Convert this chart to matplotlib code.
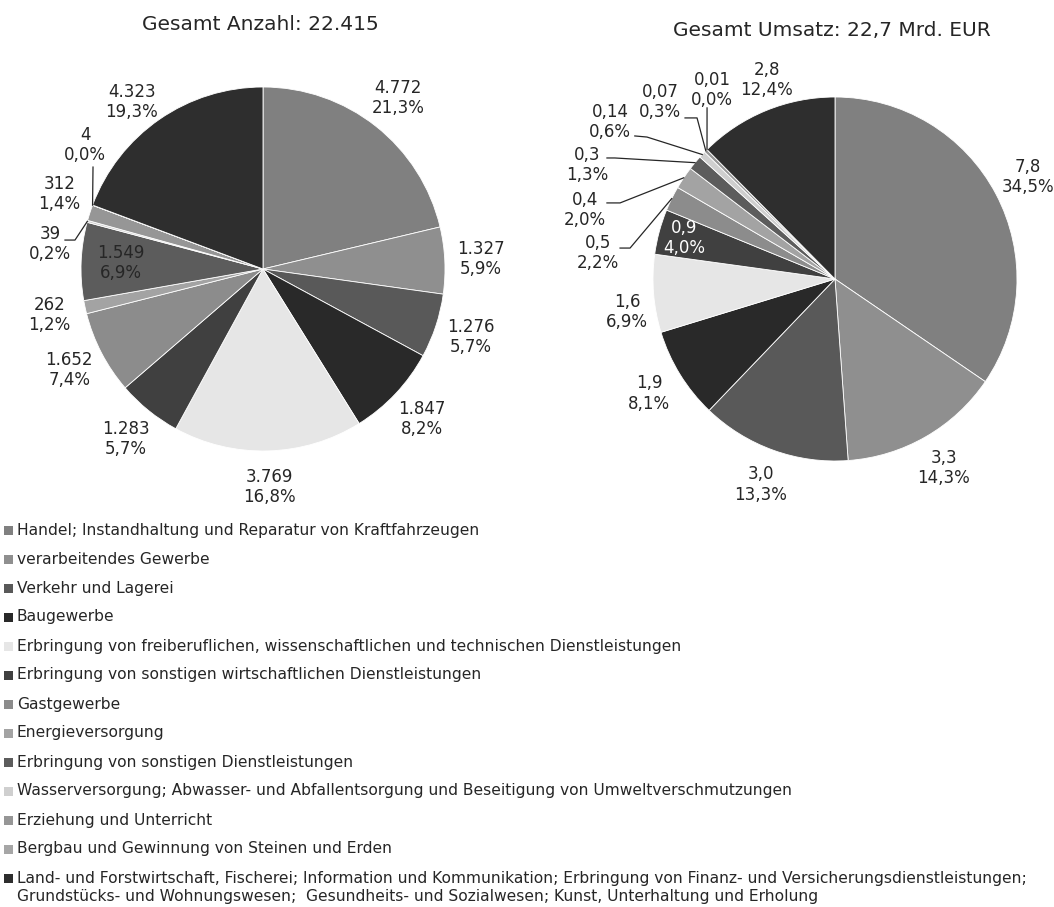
import numpy as np
import matplotlib
matplotlib.use("Agg")
import matplotlib.pyplot as plt
from matplotlib.patches import Rectangle

plt.rcParams['font.family'] = ['DejaVu Sans']

W, H = 1054, 907
TEXT = '#262626'

categories = [
    "Handel; Instandhaltung und Reparatur von Kraftfahrzeugen",
    "verarbeitendes Gewerbe",
    "Verkehr und Lagerei",
    "Baugewerbe",
    "Erbringung von freiberuflichen, wissenschaftlichen und technischen Dienstleistungen",
    "Erbringung von sonstigen wirtschaftlichen Dienstleistungen",
    "Gastgewerbe",
    "Energieversorgung",
    "Erbringung von sonstigen Dienstleistungen",
    "Wasserversorgung; Abwasser- und Abfallentsorgung und Beseitigung von Umweltverschmutzungen",
    "Erziehung und Unterricht",
    "Bergbau und Gewinnung von Steinen und Erden",
    "Land- und Forstwirtschaft, Fischerei; Information und Kommunikation; Erbringung von Finanz- und Versicherungsdienstleistungen;\n"
    "Grundstücks- und Wohnungswesen;  Gesundheits- und Sozialwesen; Kunst, Unterhaltung und Erholung",
]
colors = ['#808080', '#8f8f8f', '#595959', '#292929', '#e6e6e6', '#404040', '#8c8c8c',
          '#a3a3a3', '#5c5c5c', '#cfcfcf', '#969696', '#a6a6a6', '#2e2e2e']

# Anzahl Unternehmen
anzahl = [4772, 1327, 1276, 1847, 3769, 1283, 1652, 262, 1549, 39, 312, 4, 4323]
# Umsatz in Mrd. EUR und Anteile in %
umsatz = [7.8, 3.3, 3.0, 1.9, 1.6, 0.9, 0.5, 0.4, 0.3, 0.14, 0.07, 0.01, 2.8]
umsatz_pct = [34.5, 14.3, 13.3, 8.1, 6.9, 4.0, 2.2, 2.0, 1.3, 0.6, 0.3, 0.0, 12.4]

titles = ["Gesamt Anzahl: 22.415", "Gesamt Umsatz: 22,7 Mrd. EUR"]


def de(x, fmt):
    return format(x, fmt).replace(',', 'X').replace('.', ',').replace('X', '.')


anzahl_labels = [f"{de(v, ',d')}\n{de(100 * v / sum(anzahl), '.1f')}%" for v in anzahl]
umsatz_labels = [f"{str(v).replace('.', ',')}\n{de(p, '.1f')}%" for v, p in zip(umsatz, umsatz_pct)]

fig = plt.figure(figsize=(W / 100, H / 100), dpi=100)
R = 182


def pie_axes(cx, cy):
    return fig.add_axes([(cx - R) / W, 1 - (cy + R) / H, 2 * R / W, 2 * R / H])


def draw_pie(ax, sizes, labels, special, inside, inside_color):
    wedges, _ = ax.pie(sizes, colors=colors, startangle=90, counterclock=False,
                       wedgeprops=dict(edgecolor='white', linewidth=0.6))
    ax.set_xlim(-1, 1)
    ax.set_ylim(-1, 1)
    ax.axis('off')
    for i, w in enumerate(wedges):
        a = np.deg2rad((w.theta1 + w.theta2) / 2)
        edge = (np.cos(a), np.sin(a))
        if i in inside:
            d = inside[i]
            ax.text(d * edge[0], d * edge[1], labels[i], ha='center', va='center',
                    fontsize=12, color=inside_color, linespacing=1.15)
        elif i in special:
            pos, line = special[i]
            ax.text(pos[0], pos[1], labels[i], ha='center', va='center',
                    fontsize=12, color=TEXT, linespacing=1.15)
            if line:
                xs = [p[0] for p in line] + [edge[0]]
                ys = [p[1] for p in line] + [edge[1]]
                ax.plot(xs, ys, color='#262626', lw=0.9, clip_on=False)
        else:
            ax.text(1.2 * edge[0], 1.2 * edge[1], labels[i], ha='center', va='center',
                    fontsize=12, color=TEXT, linespacing=1.15)
    return wedges


# linkes Diagramm: Anzahl
ax1 = pie_axes(263, 269)
special1 = {
    9: ((-1.17, 0.137), [(-1.088, 0.159), (-1.033, 0.159)]),
    10: ((-1.12, 0.41), None),
    11: ((-0.978, 0.681), [(-0.934, 0.56)]),
    12: ((-0.72, 0.918), None),
}
draw_pie(ax1, anzahl, anzahl_labels, special1, {8: 0.78}, TEXT)

# rechtes Diagramm: Umsatz
ax2 = pie_axes(835, 279)
special2 = {
    4: ((-1.143, -0.181), None),
    6: ((-1.302, 0.143), [(-1.181, 0.170), (-1.126, 0.170)]),
    7: ((-1.374, 0.379), [(-1.253, 0.418), (-1.181, 0.418)]),
    8: ((-1.363, 0.626), [(-1.253, 0.665), (-1.21, 0.665)]),
    9: ((-1.236, 0.863), [(-1.10, 0.786), (-1.033, 0.78)]),
    10: ((-0.962, 0.973), [(-0.824, 0.885), (-0.758, 0.885)]),
    11: ((-0.676, 1.038), [(-0.703, 0.94)]),
    12: ((-0.374, 1.093), None),
}
draw_pie(ax2, umsatz_pct, umsatz_labels, special2, {5: 0.86}, 'white')

fig.text(260 / W, 1 - 25 / H, titles[0], ha='center', va='center', fontsize=14.5, color=TEXT)
fig.text(832 / W, 1 - 31 / H, titles[1], ha='center', va='center', fontsize=14.5, color=TEXT)

# Legende
for i, (name, c) in enumerate(zip(categories, colors)):
    y = 530 + i * 29
    fig.patches.append(Rectangle((4 / W, 1 - (y + 4.5) / H), 9 / W, 9 / H,
                                 transform=fig.transFigure, facecolor=c, edgecolor='none'))
    ty = y + 9 if '\n' in name else y
    fig.text(17 / W, 1 - ty / H, name, ha='left', va='center',
             fontsize=11.2, color=TEXT, linespacing=1.25)

fig.savefig('out.png', dpi=100, facecolor='white')
